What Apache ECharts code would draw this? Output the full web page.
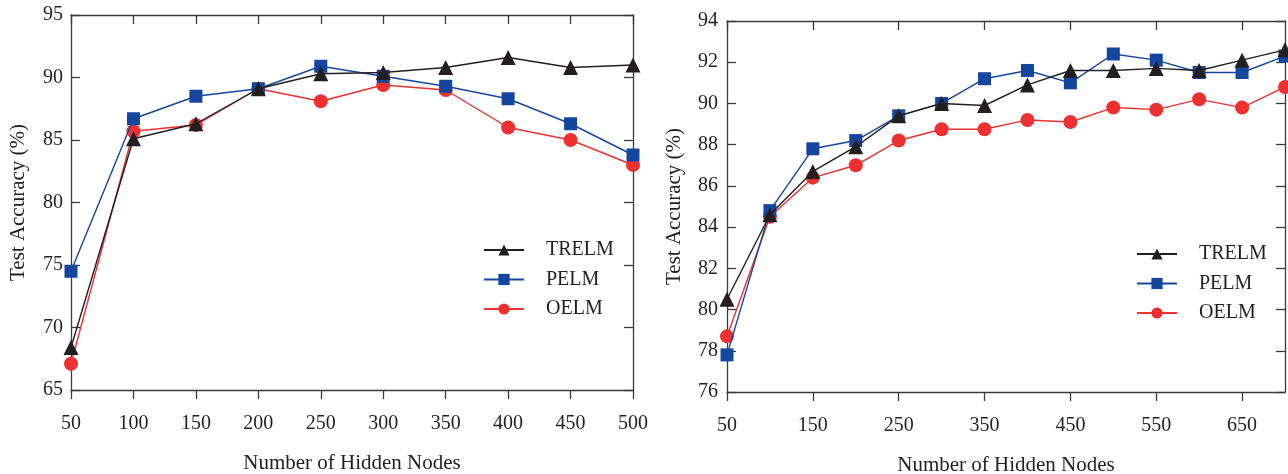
<!DOCTYPE html>
<html>
<head>
<meta charset="utf-8">
<script src="https://cdn.jsdelivr.net/npm/echarts@6/dist/echarts.min.js"></script>
<style>
html, body { margin: 0; padding: 0; background: #fff; }
#chart { width: 1288px; height: 474px; }
</style>
</head>
<body>
<div id="chart"></div>
<script>
// left panel
var nodesA = [50, 100, 150, 200, 250, 300, 350, 400, 450, 500]
var trelmA = [68.4, 85.1, 86.3, 89.1, 90.3, 90.4, 90.8, 91.6, 90.8, 91.0]
var pelmA = [74.5, 86.7, 88.5, 89.1, 90.9, 90.1, 89.3, 88.3, 86.3, 83.8]
var oelmA = [67.1, 85.7, 86.2, 89.1, 88.1, 89.4, 89.0, 86.0, 85.0, 83.0]

// right panel
var nodesB = [50, 100, 150, 200, 250, 300, 350, 400, 450, 500, 550, 600, 650, 700]
var trelmB = [80.5, 84.6, 86.7, 87.9, 89.4, 90.0, 89.9, 90.9, 91.6, 91.6, 91.7, 91.6, 92.1, 92.6]
var pelmB = [77.8, 84.8, 87.8, 88.2, 89.4, 90.0, 91.2, 91.6, 91.0, 92.4, 92.1, 91.5, 91.5, 92.3]
var oelmB = [78.7, 84.5, 86.4, 87.0, 88.2, 88.75, 88.75, 89.2, 89.1, 89.8, 89.7, 90.2, 89.8, 90.8]
var xTicksB = [50, 150, 250, 350, 450, 550, 650]

var seriesNames = ['TRELM', 'PELM', 'OELM']
var colors = ['#231f20', '#1446a0', '#ee3030']
var symbols = ['triangle', 'rect', 'circle']
var symbolSizes = [15, 13, 14]

var FONT = 'Liberation Serif'
var AXIS_COLOR = '#3a3a3a'

function pairs(xs, ys) {
  return xs.map(function (x, i) { return [x, ys[i]] })
}

function makeSeries(name, idx, xs, ys, gridIdx) {
  return {
    name: name,
    type: 'line',
    xAxisIndex: gridIdx * 2,
    yAxisIndex: gridIdx * 2,
    data: pairs(xs, ys),
    symbol: symbols[idx],
    symbolSize: symbolSizes[idx],
    itemStyle: { color: colors[idx] },
    lineStyle: { color: colors[idx], width: 1.4 },
    z: 3 - idx,
    clip: false,
    animation: false
  }
}

function bottomAxis(gridIdx, min, max, interval, customTicks) {
  var ax = {
    type: 'value',
    gridIndex: gridIdx,
    min: min,
    max: max,
    position: 'bottom',
    name: 'Number of Hidden Nodes',
    nameLocation: 'middle',
    nameGap: 63,
    nameTextStyle: { fontFamily: FONT, fontSize: 21, color: '#231f20' },
    axisLine: { lineStyle: { color: AXIS_COLOR, width: 1.3 } },
    axisTick: { inside: false, length: 9, lineStyle: { color: AXIS_COLOR, width: 1.3 } },
    axisLabel: { fontFamily: FONT, fontSize: 20, color: '#231f20', margin: 24 },
    splitLine: { show: false }
  }
  if (customTicks) {
    ax.axisTick.customValues = customTicks
    ax.axisLabel.customValues = customTicks
  } else {
    ax.interval = interval
  }
  return ax
}

function topAxis(gridIdx, min, max, interval, customTicks) {
  var ax = {
    type: 'value',
    gridIndex: gridIdx,
    min: min,
    max: max,
    position: 'top',
    axisLine: { lineStyle: { color: AXIS_COLOR, width: 1.3 } },
    axisTick: { inside: true, length: 9, lineStyle: { color: AXIS_COLOR, width: 1.3 } },
    axisLabel: { show: false },
    splitLine: { show: false }
  }
  if (customTicks) {
    ax.axisTick.customValues = customTicks
    ax.axisLabel.customValues = customTicks
  } else {
    ax.interval = interval
  }
  return ax
}

function leftAxis(gridIdx, min, max, interval, labelMargin) {
  return {
    type: 'value',
    gridIndex: gridIdx,
    min: min,
    max: max,
    interval: interval,
    position: 'left',
    name: 'Test Accuracy (%)',
    nameLocation: 'middle',
    nameGap: 42,
    nameTextStyle: { fontFamily: FONT, fontSize: 21, color: '#231f20' },
    axisLine: { lineStyle: { color: AXIS_COLOR, width: 1.3 } },
    axisTick: { inside: true, length: 9, lineStyle: { color: AXIS_COLOR, width: 1.3 } },
    axisLabel: { fontFamily: FONT, fontSize: 20, color: '#231f20', margin: labelMargin },
    splitLine: { show: false }
  }
}

function rightAxis(gridIdx, min, max, interval) {
  return {
    type: 'value',
    gridIndex: gridIdx,
    min: min,
    max: max,
    interval: interval,
    position: 'right',
    axisLine: { lineStyle: { color: AXIS_COLOR, width: 1.3 } },
    axisTick: { inside: true, length: 9, lineStyle: { color: AXIS_COLOR, width: 1.3 } },
    axisLabel: { show: false },
    splitLine: { show: false }
  }
}

function makeLegend(left, top) {
  return {
    orient: 'vertical',
    left: left,
    top: top,
    itemWidth: 40,
    itemHeight: 14,
    itemGap: 9.5,
    data: seriesNames,
    textStyle: { fontFamily: FONT, fontSize: 20, color: '#231f20', padding: [0, 0, 0, 17] }
  }
}

var chart = echarts.init(document.getElementById('chart'), null, { renderer: 'canvas' })

var option = {
  backgroundColor: '#ffffff',
  animation: false,
  grid: [
    { left: 71, right: 655, top: 15, bottom: 84, outerBoundsMode: 'none' },
    { left: 727, right: 3, top: 21, bottom: 82, outerBoundsMode: 'none' }
  ],
  legend: [makeLegend(478, 235), makeLegend(1131, 239)],
  xAxis: [
    bottomAxis(0, 50, 500, 50),
    topAxis(0, 50, 500, 50),
    bottomAxis(1, 50, 700, null, xTicksB),
    topAxis(1, 50, 700, null, xTicksB)
  ],
  yAxis: [
    leftAxis(0, 65, 95, 5, 8),
    rightAxis(0, 65, 95, 5),
    leftAxis(1, 76, 94, 2, 9),
    rightAxis(1, 76, 94, 2)
  ],
  series: [
    makeSeries('TRELM', 0, nodesA, trelmA, 0),
    makeSeries('PELM', 1, nodesA, pelmA, 0),
    makeSeries('OELM', 2, nodesA, oelmA, 0),
    makeSeries('TRELM', 0, nodesB, trelmB, 1),
    makeSeries('PELM', 1, nodesB, pelmB, 1),
    makeSeries('OELM', 2, nodesB, oelmB, 1)
  ]
}

chart.setOption(option)
</script>
</body>
</html>
